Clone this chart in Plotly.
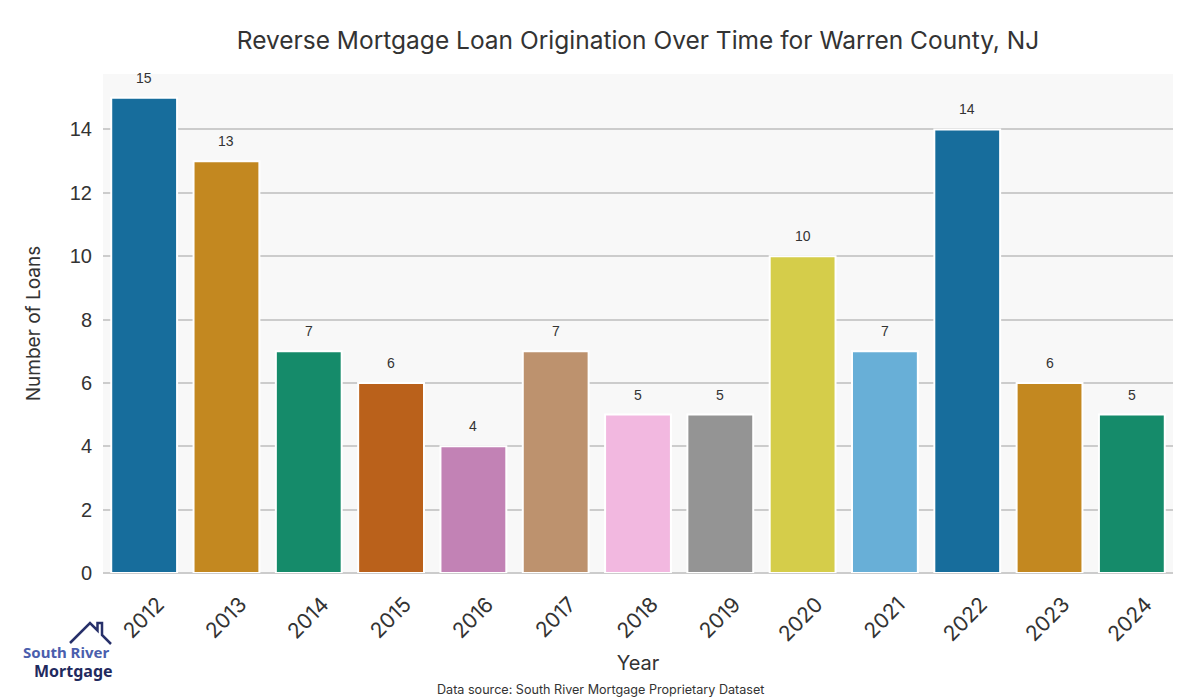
import colorsys
import plotly.graph_objects as go

years = ["2012", "2013", "2014", "2015", "2016", "2017", "2018", "2019", "2020", "2021", "2022", "2023", "2024"]
loans = [15, 13, 7, 6, 4, 7, 5, 5, 10, 7, 14, 6, 5]
y_ticks = [0, 2, 4, 6, 8, 10, 12, 14]

palette = ["#0173b2", "#de8f05", "#029e73", "#d55e00", "#cc78bc",
           "#ca9161", "#fbafe4", "#949494", "#ece133", "#56b4e9"]


def desaturate(hx, prop=0.75):
    r, g, b = (int(hx[i:i + 2], 16) / 255 for i in (1, 3, 5))
    h, l, s = colorsys.rgb_to_hls(r, g, b)
    r, g, b = colorsys.hls_to_rgb(h, l, s * prop)
    return "#%02x%02x%02x" % (round(r * 255), round(g * 255), round(b * 255))


colors = [desaturate(palette[i % len(palette)]) for i in range(len(years))]

GEO = "Inter, 'Open Sans', sans-serif"
ARIAL = "'Liberation Sans', Arial, sans-serif"

# page body adds an 8px margin; the figure is sized to compensate
OFF = 8
W, H = 1200 - OFF, 700 - OFF
PL, PR, PT, PB = 103, 1173, 74, 573  # plot area in page pixels


def px(x):
    return (x - PL) / (PR - PL)


def py(y):
    return (PB - y) / (PB - PT)


fig = go.Figure()
fig.add_trace(go.Bar(
    x=years, y=loans, marker=dict(color=colors, line=dict(color="white", width=2)),
    width=0.8, showlegend=False, hoverinfo="x+y",
))

for i, v in enumerate(loans):
    fig.add_annotation(x=i, y=v, xref="x", yref="y", text=str(v), showarrow=False,
                       yanchor="bottom", yshift=10,
                       font=dict(family=ARIAL, size=14, color="#333333"))

fig.update_layout(
    width=W, height=H,
    margin=dict(l=PL - OFF, r=1200 - PR, t=PT - OFF, b=700 - PB),
    paper_bgcolor="white", plot_bgcolor="#f8f8f8",
    title=dict(text="Reverse Mortgage Loan Origination Over Time for Warren County, NJ",
               x=(638 - OFF) / W, xanchor="center", y=1 - (40 - OFF) / H, yanchor="middle",
               font=dict(family=GEO, size=24.5, color="#333333")),
)
fig.update_xaxes(
    type="category", range=[-0.5, 12.5], tickangle=-45, ticklabelshift=14,
    ticklabelstandoff=14,
    tickfont=dict(family=GEO, size=21, color="#333333"),
    title=dict(text="Year", font=dict(family=GEO, size=20, color="#333333"), standoff=10),
    showgrid=False, showline=False, ticks="",
)
fig.update_yaxes(
    range=[0, 15.75], tickvals=y_ticks, ticktext=[str(t) for t in y_ticks],
    tickfont=dict(family=ARIAL, size=20, color="#333333"), ticklabelstandoff=10,
    title=dict(text="Number of Loans", font=dict(family=GEO, size=19, color="#333333"), standoff=24),
    showgrid=True, gridcolor="#cccccc", gridwidth=1.5,
    zeroline=True, zerolinecolor="#cccccc", zerolinewidth=1.5,
    showline=False, ticks="",
)

# footer
fig.add_annotation(text="Data source: South River Mortgage Proprietary Dataset",
                   xref="paper", yref="paper", x=px(600), y=py(689),
                   xanchor="center", yanchor="middle", showarrow=False,
                   font=dict(family=GEO, size=12.6, color="#333333"))

# logo
roof = [(70, 643), (90, 623), (97.5, 630.5), (97.5, 623), (102, 623), (102, 635), (111, 644)]
path = "M " + " L ".join(f"{px(a):.5f},{py(b):.5f}" for a, b in roof)
fig.add_shape(type="path", path=path, xref="paper", yref="paper",
              line=dict(color="#27306a", width=2.5))
fig.add_annotation(text="<b>South River</b>", xref="paper", yref="paper",
                   x=px(66), y=py(652), xanchor="center", yanchor="middle", showarrow=False,
                   font=dict(family="'Noto Sans', sans-serif", size=15, color="#4a5ead"))
fig.add_annotation(text="<b>Mortgage</b>", xref="paper", yref="paper",
                   x=px(73), y=py(671), xanchor="center", yanchor="middle", showarrow=False,
                   font=dict(family="'Noto Sans', sans-serif", size=16, color="#1f2a5e"))

fig.write_html("out.html")
